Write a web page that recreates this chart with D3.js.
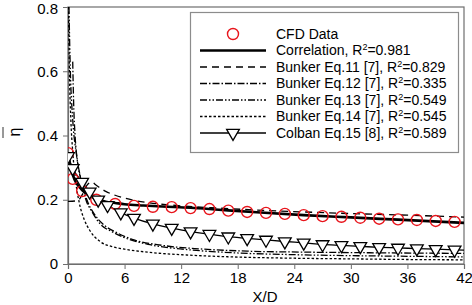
<!DOCTYPE html>
<html>
<head>
<meta charset="utf-8">
<script src="https://cdn.jsdelivr.net/npm/d3@7"></script>
<style>
    body { margin: 0; background: #ffffff; }
    svg { display: block; font-family: Arial, 'Liberation Sans', sans-serif; }
</style>
</head>
<body>
<div id="chart"></div>
<script>
// CFD data points (red circles)
const cfd_x = [0, 0.5, 1.5, 3, 5, 7, 9, 11, 13, 15, 17, 19, 21, 23, 25, 27, 29, 31, 33, 35, 37, 39, 41];
const cfd_y = [0.345, 0.265, 0.227, 0.2, 0.187, 0.181, 0.178, 0.177, 0.174, 0.171, 0.166, 0.162, 0.159, 0.156, 0.152, 0.149, 0.147, 0.144, 0.141, 0.139, 0.137, 0.134, 0.131];

// correlation (thick solid)
const corr_x = [0, 0.3, 0.7, 1.2, 1.8, 2.5, 3.2, 4, 5, 6, 8, 10, 13, 16, 20, 25, 30, 35, 42];
const corr_y = [0.345, 0.3, 0.262, 0.24, 0.222, 0.21, 0.2, 0.194, 0.19, 0.186, 0.182, 0.179, 0.175, 0.169, 0.161, 0.152, 0.145, 0.138, 0.128];

// Bunker Eq.11 (dashed)
const eq11_x = [0, 1, 1.5, 2, 2.5, 3, 4, 5, 6, 7, 9, 12, 16, 20, 25, 30, 36, 42];
const eq11_y = [0.195, 0.197, 0.215, 0.245, 0.255, 0.245, 0.226, 0.214, 0.205, 0.198, 0.189, 0.181, 0.174, 0.168, 0.162, 0.157, 0.152, 0.146];

// Bunker Eq.12 (dash-dot)
const eq12_x = [0.5, 0.6, 0.75, 1, 1.4, 2, 2.8, 3.8, 5, 7, 10, 14, 19, 25, 32, 42];
const eq12_y = [0.63, 0.5, 0.4, 0.32, 0.26, 0.2, 0.155, 0.122, 0.1, 0.075, 0.058, 0.047, 0.04, 0.037, 0.035, 0.033];

// Bunker Eq.13 (dash-dot-dot)
const eq13_x = [0.1, 0.25, 0.5, 0.9, 1.4, 1.9, 2.6, 3.4, 4.7, 5.9, 8.7, 12.6, 17.5, 24, 30, 36, 42];
const eq13_y = [0.8, 0.6, 0.45, 0.34, 0.26, 0.2, 0.16, 0.125, 0.1, 0.083, 0.06, 0.045, 0.035, 0.029, 0.026, 0.024, 0.022];

// Bunker Eq.14 (short dashes)
const eq14_x = [0.05, 0.15, 0.3, 0.5, 0.8, 1.2, 1.7, 2.3, 3.4, 4.7, 6, 8.7, 12.6, 17.5, 24, 30, 36, 42];
const eq14_y = [0.8, 0.6, 0.45, 0.35, 0.26, 0.19, 0.14, 0.105, 0.07, 0.054, 0.046, 0.036, 0.028, 0.022, 0.018, 0.016, 0.014, 0.013];

// Colban Eq.15 (triangles on a thin line)
const colban_x = [0, 0.5, 1.5, 2.3, 3.2, 4.2, 5.6, 7, 9, 11, 13, 15, 17, 19, 21, 23, 25, 27, 29, 31, 33, 35, 37, 39, 41];
const colban_y = [0.335, 0.298, 0.255, 0.225, 0.2, 0.183, 0.16, 0.143, 0.125, 0.112, 0.101, 0.093, 0.085, 0.08, 0.075, 0.07, 0.066, 0.061, 0.058, 0.055, 0.052, 0.05, 0.048, 0.046, 0.044];
const colban_end = [42, 0.043];

const x_ticks = [0, 6, 12, 18, 24, 30, 36, 42];
const y_ticks = [0, 0.2, 0.4, 0.6, 0.8];

const legend_labels = ['CFD Data', 'Correlation, R', 'Bunker Eq.11 [7], R', 'Bunker Eq.12 [7], R', 'Bunker Eq.13 [7], R', 'Bunker Eq.14 [7], R', 'Colban Eq.15 [8], R'];
const legend_r2 = [null, '0.981', '0.829', '0.335', '0.549', '0.545', '0.589'];

(function() {
    const width = 472, height = 305;
    const left = 68, right = 464, top = 7, bottom = 264;

    let pairs = (xs, ys) => xs.map((v, i) => [v, ys[i]]);

    let x = d3.scaleLinear().domain([0, 42]).range([left, right]);
    let y = d3.scaleLinear().domain([0, 0.8]).range([bottom, top]);

    let svg = d3.select('#chart').append('svg')
        .attr('width', width)
        .attr('height', height);

    let clip = svg.append('defs').append('clipPath').attr('id', 'plot-clip');
    clip.append('rect')
        .attr('x', left).attr('y', top)
        .attr('width', right - left).attr('height', bottom - top);

    // frame
    svg.append('rect')
        .attr('x', left).attr('y', top)
        .attr('width', right - left).attr('height', bottom - top)
        .attr('fill', 'none')
        .attr('stroke', '#6e6e6e')
        .attr('stroke-width', 1.2);

    let x_axis = svg.append('g')
        .attr('transform', 'translate(0,' + bottom + ')')
        .call(d3.axisBottom(x).tickValues(x_ticks).tickSize(5).tickPadding(3).tickFormat(d3.format('d')));
    x_axis.select('.domain').attr('stroke', '#6e6e6e').attr('stroke-width', 1.2);
    x_axis.selectAll('.tick line').attr('stroke', '#6e6e6e');
    x_axis.selectAll('.tick text')
        .attr('font-size', 15)
        .attr('font-family', 'Arial, Liberation Sans, sans-serif')
        .attr('fill', '#000');

    let y_axis = svg.append('g')
        .attr('transform', 'translate(' + left + ',0)')
        .call(d3.axisLeft(y).tickValues(y_ticks).tickSize(5).tickPadding(5).tickFormat((d) => d === 0 ? '0' : d3.format('.1f')(d)));
    y_axis.select('.domain').attr('stroke', '#6e6e6e').attr('stroke-width', 1.2);
    y_axis.selectAll('.tick line').attr('stroke', '#6e6e6e');
    y_axis.selectAll('.tick text')
        .attr('font-size', 15)
        .attr('font-family', 'Arial, Liberation Sans, sans-serif')
        .attr('fill', '#000')
        .attr('dy', (d) => d === 0.8 ? '0.4em' : '0.32em');

    // axis titles
    svg.append('text')
        .attr('x', 265)
        .attr('y', 302)
        .attr('text-anchor', 'middle')
        .attr('font-size', 15)
        .text('X/D');

    svg.append('text')
        .attr('transform', 'translate(20,132) rotate(-90)')
        .attr('text-anchor', 'middle')
        .attr('font-size', 16)
        .text('η');
    svg.append('line')
        .attr('x1', 3).attr('x2', 3)
        .attr('y1', 127).attr('y2', 138)
        .attr('stroke', '#333')
        .attr('stroke-width', 1);

    let line = d3.line()
        .x((d) => x(d[0]))
        .y((d) => y(d[1]))
        .curve(d3.curveMonotoneX);

    let plot = svg.append('g').attr('clip-path', 'url(#plot-clip)');

    const styles = [
        { data: pairs(eq14_x, eq14_y), dash: '2.5,2', width: 1.3 },
        { data: pairs(eq13_x, eq13_y), dash: '7,2,1.5,2,1.5,2', width: 1.3 },
        { data: pairs(eq12_x, eq12_y), dash: '7,2,1.5,2', width: 1.3 },
        { data: pairs(eq11_x, eq11_y), dash: '7,5', width: 1.3 },
    ];

    styles.forEach(function(s) {
        plot.append('path').datum(s.data)
            .attr('fill', 'none')
            .attr('stroke', '#000')
            .attr('stroke-width', s.width)
            .attr('stroke-dasharray', s.dash)
            .attr('d', line);
    });

    plot.append('path').datum(pairs(corr_x, corr_y))
        .attr('fill', 'none')
        .attr('stroke', '#000')
        .attr('stroke-width', 2.6)
        .attr('d', line);

    let colban = pairs(colban_x, colban_y);
    plot.append('path').datum(colban.concat([colban_end]))
        .attr('fill', 'none')
        .attr('stroke', '#000')
        .attr('stroke-width', 1.3)
        .attr('d', line);

    let tri = d3.symbol().type(d3.symbolTriangle).size(70);

    plot.selectAll('.cfd')
        .data(pairs(cfd_x, cfd_y))
        .enter().append('circle')
        .attr('class', 'cfd')
        .attr('cx', (d) => x(d[0]))
        .attr('cy', (d) => y(d[1]))
        .attr('r', 5.5)
        .attr('fill', 'none')
        .attr('stroke', '#e8141b')
        .attr('stroke-width', 1.4);

    plot.selectAll('.colban')
        .data(colban)
        .enter().append('path')
        .attr('class', 'colban')
        .attr('d', tri)
        .attr('transform', (d) => 'translate(' + x(d[0]) + ',' + y(d[1]) + ') rotate(180)')
        .attr('fill', '#fff')
        .attr('stroke', '#000')
        .attr('stroke-width', 1.3);

    // legend
    let legend = svg.append('g');
    legend.append('rect')
        .attr('x', 190.5).attr('y', 12.5)
        .attr('width', 268).attr('height', 140)
        .attr('fill', '#fff')
        .attr('stroke', '#8c8c8c')
        .attr('stroke-width', 1.2);

    const row_y = d3.range(legend_labels.length).map((i) => 34 + i * 16.5);
    const lx1 = 200, lx2 = 266, lcx = 233, tx = 276;

    legend.append('circle')
        .attr('cx', lcx).attr('cy', row_y[0])
        .attr('r', 5.5)
        .attr('fill', 'none')
        .attr('stroke', '#e8141b')
        .attr('stroke-width', 1.4);

    const legend_lines = [
        { w: 2.6, dash: null },
        { w: 1.3, dash: '7,5' },
        { w: 1.3, dash: '7,2,1.5,2' },
        { w: 1.3, dash: '7,2,1.5,2,1.5,2' },
        { w: 1.3, dash: '2.5,2' },
        { w: 1.3, dash: null },
    ];
    legend_lines.forEach(function(s, i) {
        legend.append('line')
            .attr('x1', lx1).attr('x2', lx2)
            .attr('y1', row_y[i + 1]).attr('y2', row_y[i + 1])
            .attr('stroke', '#000')
            .attr('stroke-width', s.w)
            .attr('stroke-dasharray', s.dash);
    });
    legend.append('path')
        .attr('d', tri)
        .attr('transform', 'translate(' + lcx + ',' + row_y[6] + ') rotate(180)')
        .attr('fill', '#fff')
        .attr('stroke', '#000')
        .attr('stroke-width', 1.3);

    legend_labels.forEach(function(label, i) {
        let t = legend.append('text')
            .attr('x', tx)
            .attr('y', row_y[i])
            .attr('dy', '0.35em')
            .attr('font-size', 14)
            .text(label);
        if (legend_r2[i]) {
            t.append('tspan')
                .attr('font-size', 9)
                .attr('dy', '-0.6em')
                .text('2');
            t.append('tspan')
                .attr('font-size', 14)
                .attr('dy', (9 * 0.6 / 14) + 'em')
                .text('=' + legend_r2[i]);
        }
    });
}());
</script>
</body>
</html>
